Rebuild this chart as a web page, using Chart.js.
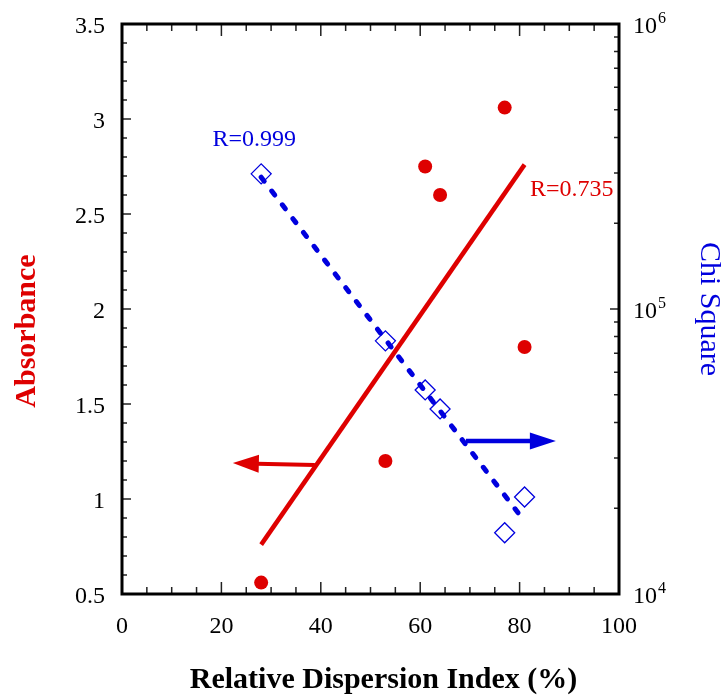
<!DOCTYPE html>
<html>
<head>
<meta charset="utf-8">
<script src="https://cdn.jsdelivr.net/npm/chart.js@4.4.0/dist/chart.umd.min.js"></script>
<style>
  html, body { margin: 0; padding: 0; background: #fff; }
</style>
</head>
<body>
<canvas id="chart" width="722" height="695"></canvas>
<script>
// data
const dispersion = [28, 53, 61, 64, 77, 81];
const absorbance = [0.56, 1.2, 2.75, 2.6, 3.06, 1.8];
const chiSquare = [298000, 77300, 52000, 44600, 16400, 21900];

// fitted lines (end points)
const absFitX = [28, 81];
const absFitY = [0.76, 2.76];
const chiFitX = [28, 81];
const chiFitY = [290000, 18000];

// arrows pointing to the axis each series belongs to (left axis units)
const redArrowX = [38.8, 22.3];
const redArrowY = [1.179, 1.189];
const blueArrowX = [69.2, 87.3];
const blueArrowY = [1.305, 1.305];

// R labels
const rLabels = ['R=0.999', 'R=0.735'];
const rLabelX = [26.6, 90.5];
const rLabelY = [2.89, 2.63];

const xTitle = 'Relative Dispersion Index (%)';
const yTitle = 'Absorbance';

const RED = 'rgb(222,0,0)';
const BLUE = 'rgb(0,0,222)';
const SERIF = '"Liberation Serif", "Times New Roman", serif';

function pts(xs, ys) {
    return xs.map((x, i) => ({x: x, y: ys[i]}));
}

// axis frame, inward ticks, log labels, arrows, titles and R labels
const extras = {
    id: 'extras',
    afterDatasetsDraw(chart) {
        const ctx = chart.ctx;
        const a = chart.chartArea;
        const sx = chart.scales.x, sy = chart.scales.y, sy2 = chart.scales.y2;
        ctx.save();

        // arrows
        function arrow(xs, ys, color, width, head, half) {
            const x1 = sx.getPixelForValue(xs[0]), y1 = sy.getPixelForValue(ys[0]);
            const x2 = sx.getPixelForValue(xs[1]), y2 = sy.getPixelForValue(ys[1]);
            const ang = Math.atan2(y2 - y1, x2 - x1);
            const bx = x2 - head * Math.cos(ang), by = y2 - head * Math.sin(ang);
            ctx.strokeStyle = color;
            ctx.fillStyle = color;
            ctx.lineWidth = width;
            ctx.beginPath();
            ctx.moveTo(x1, y1);
            ctx.lineTo(bx + 2 * Math.cos(ang), by + 2 * Math.sin(ang));
            ctx.stroke();
            ctx.beginPath();
            ctx.moveTo(x2, y2);
            ctx.lineTo(bx + half * Math.sin(ang), by - half * Math.cos(ang));
            ctx.lineTo(bx - half * Math.sin(ang), by + half * Math.cos(ang));
            ctx.closePath();
            ctx.fill();
        }
        arrow(redArrowX, redArrowY, RED, 4, 26, 9);
        arrow(blueArrowX, blueArrowY, BLUE, 4.5, 26, 8.5);

        // R labels
        ctx.font = '24px ' + SERIF;
        ctx.textAlign = 'center';
        ctx.textBaseline = 'middle';
        ctx.fillStyle = BLUE;
        ctx.fillText(rLabels[0], sx.getPixelForValue(rLabelX[0]), sy.getPixelForValue(rLabelY[0]));
        ctx.fillStyle = RED;
        ctx.fillText(rLabels[1], sx.getPixelForValue(rLabelX[1]), sy.getPixelForValue(rLabelY[1]));

        // ticks
        ctx.strokeStyle = '#222';
        ctx.lineWidth = 1.5;
        ctx.beginPath();
        for (let v = 0; v <= 100; v += 5) {
            const px = sx.getPixelForValue(v);
            const len = v % 20 === 0 ? 12 : 7;
            ctx.moveTo(px, a.bottom);
            ctx.lineTo(px, a.bottom - len);
            ctx.moveTo(px, a.top);
            ctx.lineTo(px, a.top + len);
        }
        for (let i = 5; i <= 35; i++) {
            const py = sy.getPixelForValue(i / 10);
            const len = i % 5 === 0 ? 9 : 5;
            ctx.moveTo(a.left, py);
            ctx.lineTo(a.left + len, py);
        }
        for (let e = 4; e < 6; e++) {
            for (let m = 1; m < 10; m++) {
                const py = sy2.getPixelForValue(m * Math.pow(10, e));
                const len = m === 1 ? 9 : 5;
                ctx.moveTo(a.right, py);
                ctx.lineTo(a.right - len, py);
            }
        }
        ctx.stroke();

        // frame
        ctx.strokeStyle = '#000';
        ctx.lineWidth = 3;
        ctx.strokeRect(a.left, a.top, a.right - a.left, a.bottom - a.top);

        // right log labels 10^n
        ctx.fillStyle = '#000';
        ctx.textAlign = 'left';
        ctx.textBaseline = 'alphabetic';
        for (let e = 4; e <= 6; e++) {
            const py = sy2.getPixelForValue(Math.pow(10, e));
            ctx.font = '24px ' + SERIF;
            ctx.fillText('10', 633, py + 9);
            const w = ctx.measureText('10').width;
            ctx.font = '16px ' + SERIF;
            ctx.fillText(String(e), 633 + w + 1, py - 1);
        }

        // axis titles (offset from the plot centre as in the original)
        ctx.font = 'bold 30px ' + SERIF;
        ctx.textAlign = 'center';
        ctx.fillStyle = '#000';
        ctx.fillText(xTitle, 383.5, 688);
        ctx.translate(35, 331);
        ctx.rotate(-Math.PI / 2);
        ctx.fillStyle = RED;
        ctx.fillText(yTitle, 0, 0);
        ctx.restore();
    }
};

new Chart(document.getElementById('chart'), {
    type: 'scatter',
    data: {
        datasets: [
            {
                label: 'Chi fit',
                data: pts(chiFitX, chiFitY),
                yAxisID: 'y2',
                showLine: true,
                borderColor: BLUE,
                borderWidth: 5,
                borderDash: [5, 12.4],
                borderCapStyle: 'round',
                pointRadius: 0,
                order: 1
            },
            {
                label: 'Absorbance fit',
                data: pts(absFitX, absFitY),
                yAxisID: 'y',
                showLine: true,
                borderColor: RED,
                borderWidth: 4.5,
                pointRadius: 0,
                order: 2
            },
            {
                label: 'Chi Square',
                data: pts(dispersion, chiSquare),
                yAxisID: 'y2',
                pointStyle: 'rectRot',
                pointRadius: 10,
                pointBorderWidth: 1.3,
                borderColor: BLUE,
                backgroundColor: 'rgba(0,0,0,0)',
                order: 3
            },
            {
                label: 'Absorbance',
                data: pts(dispersion, absorbance),
                yAxisID: 'y',
                pointStyle: 'circle',
                pointRadius: 7,
                borderWidth: 0,
                backgroundColor: RED,
                borderColor: RED,
                order: 4
            }
        ]
    },
    options: {
        responsive: false,
        animation: false,
        devicePixelRatio: 1,
        layout: { padding: { top: 24, left: 0, right: 0, bottom: 0 } },
        plugins: {
            legend: { display: false },
            tooltip: { enabled: false }
        },
        scales: {
            x: {
                type: 'linear',
                position: 'bottom',
                min: 0,
                max: 100,
                grid: { display: false, drawTicks: true, tickLength: 18 },
                border: { display: false },
                ticks: {
                    stepSize: 20,
                    padding: 0,
                    color: '#000',
                    font: { family: SERIF, size: 24 }
                },
                afterFit: s => { s.height = 101; }
            },
            y: {
                type: 'linear',
                position: 'left',
                min: 0.5,
                max: 3.5,
                grid: { display: false, drawTicks: true, tickLength: 17 },
                border: { display: false },
                ticks: {
                    stepSize: 0.5,
                    padding: 0,
                    labelOffset: 3,
                    color: '#000',
                    font: { family: SERIF, size: 24 },
                    callback: v => String(Number(v))
                },
                afterFit: s => { s.width = 122; }
            },
            y2: {
                type: 'logarithmic',
                position: 'right',
                min: 10000,
                max: 1000000,
                grid: { display: false, drawTicks: false },
                border: { display: false },
                ticks: {
                    autoSkip: false,
                    padding: 0,
                    callback: () => ''
                },
                title: {
                    display: true,
                    text: 'Chi Square',
                    color: BLUE,
                    font: { family: SERIF, size: 30, lineHeight: 0.86 },
                    padding: { top: 0, bottom: 0 }
                },
                afterFit: s => { s.width = 103; }
            }
        }
    },
    plugins: [extras]
});
</script>
</body>
</html>
